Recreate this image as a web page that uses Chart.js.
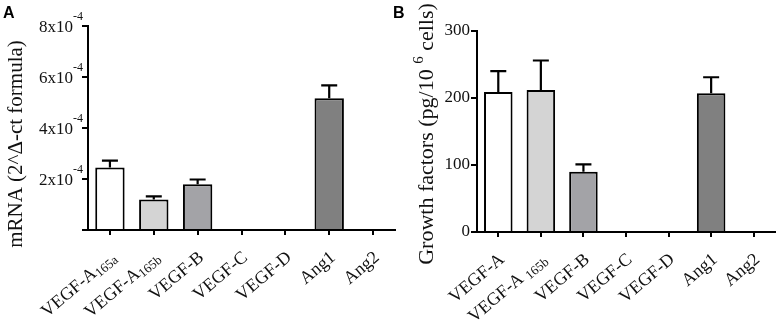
<!DOCTYPE html>
<html lang="en">
<head>
<meta charset="UTF-8">
<title>Growth factor expression - mRNA and protein</title>
<script src="https://cdn.jsdelivr.net/npm/chart.js"></script>
<style>
  html, body { margin: 0; padding: 0; background: #fff; }
  #wrap { position: relative; width: 782px; height: 322px; overflow: hidden; }
  canvas { position: absolute; top: 0; }
  #chartA { left: 0; }
  #chartB { left: 390px; }
</style>
</head>
<body>
<div id="wrap">
  <canvas id="chartA" width="400" height="322"></canvas>
  <canvas id="chartB" width="392" height="322"></canvas>
</div>
<script>
// ---- panel A: mRNA ----
const categoriesA = ['VEGF-A165a', 'VEGF-A165b', 'VEGF-B', 'VEGF-C', 'VEGF-D', 'Ang1', 'Ang2'];
const labelMainA = ['VEGF-A', 'VEGF-A', 'VEGF-B', 'VEGF-C', 'VEGF-D', 'Ang1', 'Ang2'];
const labelSubA = ['165a', '165b', '', '', '', '', ''];
const mrnaMean = [2.45e-4, 1.20e-4, 1.79e-4, 0, 0, 5.17e-4, 0];
const mrnaErr = [0.27e-4, 0.12e-4, 0.19e-4, 0, 0, 0.50e-4, 0];
const tickValuesA = [0, 2e-4, 4e-4, 6e-4, 8e-4];
const tickMainA = ['', '2x10', '4x10', '6x10', '8x10'];
const tickSupA = ['', '-4', '-4', '-4', '-4'];

// ---- panel B: protein ----
const categoriesB = ['VEGF-A', 'VEGF-A 165b', 'VEGF-B', 'VEGF-C', 'VEGF-D', 'Ang1', 'Ang2'];
const labelMainB = ['VEGF-A', 'VEGF-A ', 'VEGF-B', 'VEGF-C', 'VEGF-D', 'Ang1', 'Ang2'];
const labelSubB = ['', '165b', '', '', '', '', ''];
const proteinMean = [209, 212, 90, 0, 0, 207, 0];
const proteinErr = [31, 44, 11, 0, 0, 24, 0];

const barColors = ['#ffffff', '#d4d4d4', '#a3a3a7', '#a3a3a7', '#a3a3a7', '#808080', '#808080'];

const SERIF = "'Liberation Serif', 'Times New Roman', serif";
const LABEL_ANGLE = -40 * Math.PI / 180;

// draw text made of several runs (normal / sub / sup) along a rotated baseline
function richText(ctx, parts, x, y, angle, align) {
  ctx.save();
  ctx.translate(x, y);
  ctx.rotate(angle);
  ctx.textAlign = 'left';
  ctx.textBaseline = 'alphabetic';
  let total = 0;
  parts.forEach(p => { ctx.font = p.font; p.w = ctx.measureText(p.text).width; total += p.w; });
  let cx = align === 'right' ? -total : (align === 'center' ? -total / 2 : 0);
  parts.forEach(p => {
    ctx.font = p.font;
    ctx.fillStyle = '#111';
    ctx.fillText(p.text, cx, p.dy || 0);
    cx += p.w;
  });
  ctx.restore();
}

function errorBars(means, errs) {
  return {
    id: 'errbars',
    afterDatasetsDraw(chart) {
      const ctx = chart.ctx, xs = chart.scales.x, ys = chart.scales.y;
      ctx.save();
      ctx.strokeStyle = '#000';
      ctx.lineWidth = 2.2;
      means.forEach((m, i) => {
        if (!errs[i]) return;
        const x = xs.getPixelForValue(i);
        const y0 = ys.getPixelForValue(m);
        const y1 = ys.getPixelForValue(m + errs[i]);
        ctx.beginPath();
        ctx.moveTo(x, y0);
        ctx.lineTo(x, y1);
        ctx.moveTo(x - 8, y1);
        ctx.lineTo(x + 8, y1);
        ctx.stroke();
      });
      ctx.restore();
    }
  };
}

function xLabels(mains, subs) {
  return {
    id: 'xlabels',
    afterDraw(chart) {
      const ctx = chart.ctx, xs = chart.scales.x;
      const y = chart.chartArea.bottom;
      mains.forEach((m, i) => {
        const x = xs.getPixelForValue(i);
        const parts = [{ text: m, font: '18px ' + SERIF }];
        if (subs[i]) parts.push({ text: subs[i], font: '13px ' + SERIF, dy: 3 });
        richText(ctx, parts, x + 7, y + 29, LABEL_ANGLE, 'right');
      });
    }
  };
}

function panelLetter(letter) {
  return {
    id: 'letter',
    afterDraw(chart) {
      const ctx = chart.ctx;
      ctx.save();
      ctx.font = "bold 16px 'Liberation Sans', Arial, sans-serif";
      ctx.fillStyle = '#000';
      ctx.textBaseline = 'alphabetic';
      ctx.fillText(letter, 3, 18);
      ctx.restore();
    }
  };
}

function fixedBox(yWidth, xHeight) {
  return {
    y: { afterFit(s) { s.width = yWidth; } },
    x: { afterFit(s) { s.height = xHeight; } }
  };
}

function xScale(fit) {
  return {
    offset: true,
    afterFit: fit.x.afterFit,
    grid: { offset: false, drawOnChartArea: false, drawTicks: true, tickLength: 5, color: '#000', lineWidth: 2 },
    border: { display: true, color: '#000', width: 2 },
    ticks: { display: false }
  };
}

// ---- chart A ----
const fitA = fixedBox(88, 92);
new Chart(document.getElementById('chartA'), {
  type: 'bar',
  data: {
    labels: categoriesA,
    datasets: [{
      data: mrnaMean,
      backgroundColor: barColors,
      borderColor: '#000',
      borderWidth: 2,
      categoryPercentage: 1,
      barPercentage: 0.67
    }]
  },
  options: {
    responsive: false,
    animation: false,
    layout: { padding: { left: 0, top: 26, right: 5, bottom: 0 } },
    plugins: { legend: { display: false }, tooltip: { enabled: false } },
    scales: {
      x: xScale(fitA),
      y: {
        min: 0, max: 8e-4,
        afterFit: fitA.y.afterFit,
        afterBuildTicks(s) { s.ticks = tickValuesA.map(v => ({ value: v })); },
        grid: { drawOnChartArea: false, drawTicks: true, tickLength: 6, color: '#000', lineWidth: 2 },
        border: { display: true, color: '#000', width: 2 },
        ticks: { display: false }
      }
    }
  },
  plugins: [
    errorBars(mrnaMean, mrnaErr),
    xLabels(labelMainA, labelSubA),
    panelLetter('A'),
    {
      id: 'yDecorA',
      afterDraw(chart) {
        const ctx = chart.ctx, ys = chart.scales.y;
        tickValuesA.forEach((v, i) => {
          if (!tickMainA[i]) return;
          const y = ys.getPixelForValue(v);
          richText(ctx, [
            { text: tickMainA[i], font: '17px ' + SERIF },
            { text: tickSupA[i], font: '12px ' + SERIF, dy: -12 }
          ], 83, y + 6, 0, 'right');
        });
        richText(ctx, [{ text: 'mRNA (2^\u0394-ct formula)', font: '21px ' + SERIF }],
          22, 144, -Math.PI / 2, 'center');
      }
    }
  ]
});

// ---- chart B ----
const fitB = fixedBox(87, 90);
new Chart(document.getElementById('chartB'), {
  type: 'bar',
  data: {
    labels: categoriesB,
    datasets: [{
      data: proteinMean,
      backgroundColor: barColors,
      borderColor: '#000',
      borderWidth: 2,
      categoryPercentage: 1,
      barPercentage: 0.67
    }]
  },
  options: {
    responsive: false,
    animation: false,
    layout: { padding: { left: 0, top: 31, right: 7, bottom: 0 } },
    plugins: { legend: { display: false }, tooltip: { enabled: false } },
    scales: {
      x: xScale(fitB),
      y: {
        min: 0, max: 300,
        afterFit: fitB.y.afterFit,
        grid: { drawOnChartArea: false, drawTicks: true, tickLength: 6, color: '#000', lineWidth: 2 },
        border: { display: true, color: '#000', width: 2 },
        ticks: { stepSize: 100, padding: 1, color: '#111', font: { family: SERIF, size: 17 } }
      }
    }
  },
  plugins: [
    errorBars(proteinMean, proteinErr),
    xLabels(labelMainB, labelSubB),
    panelLetter('B'),
    {
      id: 'yTitleB',
      afterDraw(chart) {
        richText(chart.ctx, [
          { text: 'Growth factors (pg/10 ', font: '22px ' + SERIF },
          { text: '6', font: '15px ' + SERIF, dy: -10 },
          { text: ' cells)', font: '22px ' + SERIF }
        ], 43, 134, -Math.PI / 2, 'center');
      }
    }
  ]
});
</script>
</body>
</html>
